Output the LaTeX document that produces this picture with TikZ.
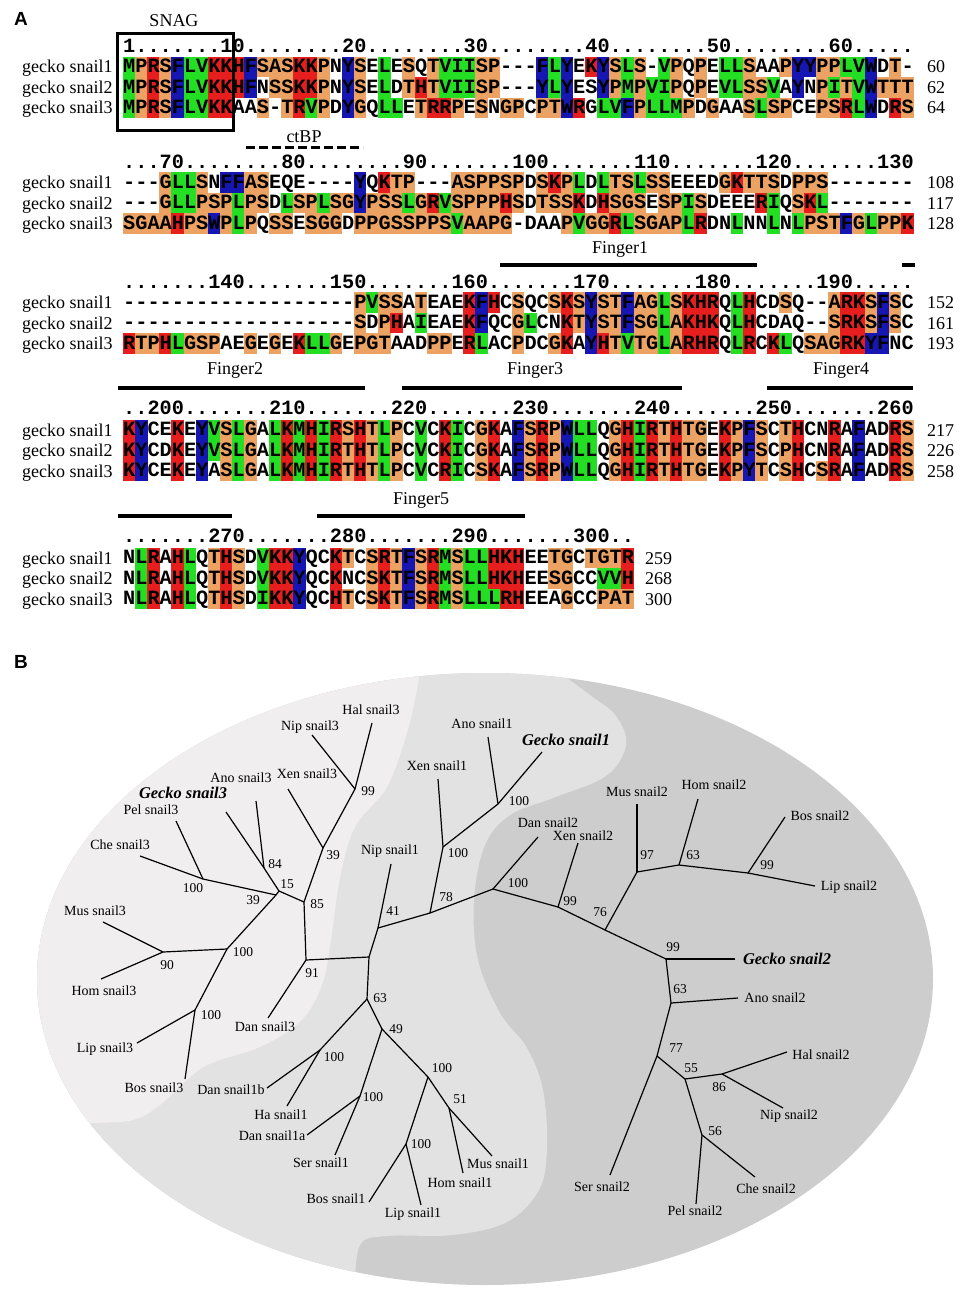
\documentclass[tikz,border=0pt]{standalone}
\usepackage{fontspec}
\setmainfont{Liberation Serif}
\setsansfont{Liberation Sans}
\setmonofont{Liberation Mono}

\definecolor{resG}{RGB}{36,222,36}
\definecolor{resO}{RGB}{236,162,98}
\definecolor{resR}{RGB}{230,30,30}
\definecolor{resB}{RGB}{22,22,178}
\definecolor{bgLight}{RGB}{240,238,238}
\definecolor{bgMid}{RGB}{226,226,226}
\definecolor{bgDark}{RGB}{205,205,205}

\newcount\rescol
\def\setres#1#2{\expandafter\def\csname rc#1\endcsname{#2}}
\setres{K}{resR}\setres{R}{resR}\setres{H}{resR}
\setres{F}{resB}\setres{Y}{resB}\setres{W}{resB}
\setres{L}{resG}\setres{V}{resG}\setres{I}{resG}\setres{M}{resG}
\setres{S}{resO}\setres{T}{resO}\setres{P}{resO}\setres{G}{resO}\setres{A}{resO}
\def\resbox#1{%
  \ifx#1\relax\else
    \ifcsname rc#1\endcsname
      \edef\rescolor{\csname rc#1\endcsname}%
      \fill[fill=\rescolor] ({\resx+\the\rescol*12.16-0.2},{\resy-10.3}) rectangle +(12.56,20.6);
    \fi
    \advance\rescol by 1
    \expandafter\resbox
  \fi}
\newcommand\seqrow[4]{%
  \def\resx{#2}\def\resy{#3}\rescol=0
  \resbox#4\relax
  \node[seq] (#1) at (#2,{#3+5.9}) {\uppercase{#4}};}

\begin{document}
\begin{tikzpicture}[x=1pt,y=-1pt,
  seq/.style={anchor=base west,inner sep=0pt,font=\ttfamily\bfseries\fontsize{20.27}{22}\selectfont},
  lab/.style={anchor=base west,inner sep=0pt,font=\fontsize{18}{20}\selectfont},
  note/.style={inner sep=0pt,font=\fontsize{18}{20}\selectfont},
  bar/.style={line width=4pt},
  panel/.style={inner sep=0pt,font=\sffamily\bfseries\fontsize{19}{20}\selectfont},
  branch/.style={line width=1.2pt},
  leaf/.style={inner sep=0pt,font=\fontsize{14}{15}\selectfont},
  gecko/.style={inner sep=0pt,font=\bfseries\itshape\fontsize{16.4}{18}\selectfont},
  boot/.style={inner sep=0pt,font=\fontsize{13.5}{15}\selectfont}]
\useasboundingbox (0,0) rectangle (969,1300);
\fill[white] (0,0) rectangle (969,1300);

\node[panel] (pA) at (21,19) {A};
\node[note] (snag) at (174,21) {SNAG};

\node[seq] (hdA) at (123,53) {1.......10........20........30........40........50........60.....};
\seqrow{sA1}{123}{67}{MPRSFLVKKHFSASKKPNYSELESQTVIISP---FLYEKYSLS-VPQPELLSaaPYYPPLVWDT-}
\seqrow{sA2}{123}{87.5}{MPRSFLVKKHFNSSKKPNYSELDTHTVIISP---YLYEsYPMPVIPQPEVLSSVaYNPITVWTTT}
\seqrow{sA3}{123}{108}{MPRSFLVKKaaS-TRVPDYGQLLETRRPESNGPCPTWRgLVFPLLMPDGaaSLSPCEPSRLWDRS}
\node[lab] (lA1) at (22,73) {gecko snail1};
\node[lab] (lA2) at (22,93.5) {gecko snail2};
\node[lab] (lA3) at (22,114) {gecko snail3};
\node[lab] (nA1) at (927,73) {60};
\node[lab] (nA2) at (927,93.5) {62};
\node[lab] (nA3) at (927,114) {64};
\node[draw,line width=3pt,minimum width=116pt,minimum height=97pt,inner sep=0pt] (snagbox) at (175,82.5) {};

\node[note] (ctbp) at (304,137) {ctBP};
\coordinate (ctL) at (246,148);
\coordinate (ctR) at (363,148);
\draw[line width=3pt,dash pattern=on 9pt off 4pt] (ctL) -- (ctR);

\node[seq] (hdB) at (123,168) {...70........80........90.......100.......110.......120.......130};
\seqrow{sB1}{123}{182.5}{---GLLSNFFASEQE----YQKTP---ASPPSPDSKPLDLTSLSSEEEDGKTTSDPPS-------}
\seqrow{sB2}{123}{203}{---GLLPSPLPSDLSPLSGYPSSLGRVSPPPHSDTSSKDHSGSESPISDEEERIQSKL-------}
\seqrow{sB3}{123}{223.5}{SGAAHPSWPLPQSSESGGDPPGSSPPSVAAPG-DaaPVGGRLSGAPLRDNLNNLNLPSTFGLPPK}
\node[lab] (lB1) at (22,188.5) {gecko snail1};
\node[lab] (lB2) at (22,209) {gecko snail2};
\node[lab] (lB3) at (22,229.5) {gecko snail3};
\node[lab] (nB1) at (927,188.5) {108};
\node[lab] (nB2) at (927,209) {117};
\node[lab] (nB3) at (927,229.5) {128};

\node[note] (fg1) at (620,249) {Finger1};
\coordinate (f1a) at (500,265);
\coordinate (f1b) at (757,265);
\coordinate (f2a) at (902,265);
\coordinate (f2b) at (915,265);
\draw[bar] (f1a) -- (f1b);
\draw[bar] (f2a) -- (f2b);

\node[seq] (hdC) at (123,288) {.......140.......150.......160.......170.......180.......190.....};
\seqrow{sC1}{123}{302.5}{-------------------PVSSaTEaEKFHCSQCSKSYSTFAGLSKHRQLHCDSQ--ARKSFSC}
\seqrow{sC2}{123}{323}{-------------------SDPHaIEaEKFQCGLCNKTYSTFSGLAKHKQLHCDaQ--SRKSFSC}
\seqrow{sC3}{123}{343.5}{RTPHLGSPaEGEGEKLLGEPGTaaDPPERLaCPDCGKaYHTVTGLARHRQLRCKLQSAGRKYFNC}
\node[lab] (lC1) at (22,308.5) {gecko snail1};
\node[lab] (lC2) at (22,329) {gecko snail2};
\node[lab] (lC3) at (22,349.5) {gecko snail3};
\node[lab] (nC1) at (927,308.5) {152};
\node[lab] (nC2) at (927,329) {161};
\node[lab] (nC3) at (927,349.5) {193};

\node[note] (fg2) at (235,370) {Finger2};
\node[note] (fg3) at (535,370) {Finger3};
\node[note] (fg4) at (841,370) {Finger4};
\coordinate (f2c) at (118,388);
\coordinate (f2d) at (365,388);
\coordinate (f3a) at (402,388);
\coordinate (f3b) at (682,388);
\coordinate (f4a) at (767,388);
\coordinate (f4b) at (913,388);
\draw[bar] (f2c) -- (f2d);
\draw[bar] (f3a) -- (f3b);
\draw[bar] (f4a) -- (f4b);

\node[seq] (hdD) at (123,414) {..200.......210.......220.......230.......240.......250.......260};
\seqrow{sD1}{123}{430}{KYCEKEYVSLGaLKMHIRSHTLPCVCKICGKaFSRPWLLQGHIRTHTGEKPFSCTHCNRaFaDRS}
\seqrow{sD2}{123}{450.5}{KYCDKEYVSLGaLKMHIRTHTLPCVCKICGKaFSRPWLLQGHIRTHTGEKPFSCPHCNRaFaDRS}
\seqrow{sD3}{123}{471}{KYCEKEYaSLGaLKMHIRTHTLPCVCRICSKaFSRPWLLQGHIRTHTGEKPYTCSHCSRaFaDRS}
\node[lab] (lD1) at (22,436) {gecko snail1};
\node[lab] (lD2) at (22,456.5) {gecko snail2};
\node[lab] (lD3) at (22,477) {gecko snail3};
\node[lab] (nD1) at (927,436) {217};
\node[lab] (nD2) at (927,456.5) {226};
\node[lab] (nD3) at (927,477) {258};

\node[note] (fg5) at (421,500) {Finger5};
\coordinate (f4c) at (118,516);
\coordinate (f4d) at (232,516);
\coordinate (f5a) at (317,516);
\coordinate (f5b) at (525,516);
\draw[bar] (f4c) -- (f4d);
\draw[bar] (f5a) -- (f5b);

\node[seq] (hdE) at (123,542) {.......270.......280.......290.......300..};
\seqrow{sE1}{123}{558}{NLRaHLQTHSDVKKYQCKTCSRTFSRMSLLHKHEETGCTGTR}
\seqrow{sE2}{123}{578.5}{NLRaHLQTHSDVKKYQCKNCSKTFSRMSLLHKHEESGCCVVH}
\seqrow{sE3}{123}{599}{NLRaHLQTHSDIKKYQCHTCSKTFSRMSLLLRHEEaGCCPAT}
\node[lab] (lE1) at (22,564) {gecko snail1};
\node[lab] (lE2) at (22,584.5) {gecko snail2};
\node[lab] (lE3) at (22,605) {gecko snail3};
\node[lab] (nE1) at (645,564) {259};
\node[lab] (nE2) at (645,584.5) {268};
\node[lab] (nE3) at (645,605) {300};

\node[panel] (pB) at (21,662) {B};

\begin{scope}
\clip (485,979) ellipse [x radius=448,y radius=306];
\fill[bgDark] (0,640) rectangle (969,1300);
\fill[bgMid] (0,640) -- (553,640) -- plot[smooth,tension=0.6] coordinates {(553,668) (590,695) (616,716) (626,745) (606,776) (553,798) (510,815) (485,845) (474,900) (478,960) (500,1013) (527,1048) (543,1090) (547,1148) (539,1190) (507,1222) (453,1235) (387,1236) (360,1245) (355,1290)} -- (355,1300) -- (0,1300) -- cycle;
\fill[bgLight] (0,640) -- (420,640) -- plot[smooth,tension=0.6] coordinates {(420,668) (417,690) (407,733) (387,787) (355,827) (340,878) (331,940) (322,985) (300,1022) (260,1047) (217,1061) (195,1073) (160,1105) (133,1120) (93,1123) (50,1125)} -- (0,1125) -- cycle;
\end{scope}

\coordinate (n99a) at (355,789);
\coordinate (n39a) at (323,848);
\coordinate (n84) at (264,868);
\coordinate (n15) at (279,891);
\coordinate (n39b) at (276,895);
\coordinate (n100a) at (203,879);
\coordinate (n85) at (304,902);
\coordinate (n91) at (306,960);
\coordinate (n100b) at (227,949);
\coordinate (n90) at (163,952);
\coordinate (n100c) at (195,1010);
\coordinate (nroot) at (369,957);
\coordinate (n41) at (378,928);
\coordinate (n78) at (430,913);
\coordinate (n100d) at (443,847);
\coordinate (n100e) at (498,804);
\coordinate (n63a) at (367,999);
\coordinate (n100g) at (320,1050);
\coordinate (n49) at (382,1029);
\coordinate (n100h) at (360,1096);
\coordinate (n100i) at (428,1077);
\coordinate (n100j) at (406,1144);
\coordinate (n51) at (449,1108);
\coordinate (n100f) at (493,889);
\coordinate (n99b) at (558,907);
\coordinate (n76) at (605,930);
\coordinate (n97) at (637,872);
\coordinate (n63c) at (679,865);
\coordinate (n99d) at (748,873);
\coordinate (n99c) at (666,959);
\coordinate (n63b) at (671,1003);
\coordinate (n77) at (657,1056);
\coordinate (n55) at (685,1079);
\coordinate (n86) at (722,1074);
\coordinate (n56) at (702,1135);

\coordinate (tHal3) at (372,723);
\coordinate (tNip3) at (312,735);
\coordinate (tXen3) at (288,789);
\coordinate (tAno3) at (256,801);
\coordinate (tGecko3) at (226,812);
\coordinate (tPel3) at (176,821);
\coordinate (tChe3) at (140,856);
\coordinate (tMus3) at (103,922);
\coordinate (tHom3) at (101,979);
\coordinate (tLip3) at (137,1043);
\coordinate (tBos3) at (185,1079);
\coordinate (tDan3) at (268,1018);
\coordinate (tNip1) at (391,864);
\coordinate (tXen1) at (438,779);
\coordinate (tAno1) at (488,737);
\coordinate (tGecko1) at (542,752);
\coordinate (tDan1b) at (267,1088);
\coordinate (tHa1) at (287,1106);
\coordinate (tDan1a) at (307,1135);
\coordinate (tSer1) at (335,1155);
\coordinate (tBos1) at (369,1202);
\coordinate (tLip1) at (421,1205);
\coordinate (tHom1) at (463,1173);
\coordinate (tMus1) at (492,1156);
\coordinate (tDan2) at (538,837);
\coordinate (tXen2) at (578,843);
\coordinate (tMus2) at (637,804);
\coordinate (tHom2) at (698,799);
\coordinate (tBos2) at (785,817);
\coordinate (tLip2) at (815,886);
\coordinate (tGecko2) at (735,959);
\coordinate (tAno2) at (738,998);
\coordinate (tSer2) at (610,1175);
\coordinate (tHal2) at (787,1052);
\coordinate (tNip2) at (783,1108);
\coordinate (tChe2) at (755,1177);
\coordinate (tPel2) at (696,1204);

\draw[branch] (n99a) -- (tHal3);
\draw[branch] (n99a) -- (tNip3);
\draw[branch] (n99a) -- (n39a);
\draw[branch] (n39a) -- (tXen3);
\draw[branch] (n39a) -- (n85);
\draw[branch] (n84) -- (tAno3);
\draw[branch] (n84) -- (tGecko3);
\draw[branch] (n84) -- (n15);
\draw[branch] (n15) -- (n85);
\draw[branch] (n15) -- (n39b);
\draw[branch] (n39b) -- (n100a);
\draw[branch] (n100a) -- (tPel3);
\draw[branch] (n100a) -- (tChe3);
\draw[branch] (n39b) -- (n100b);
\draw[branch] (n100b) -- (n90);
\draw[branch] (n90) -- (tMus3);
\draw[branch] (n90) -- (tHom3);
\draw[branch] (n100b) -- (n100c);
\draw[branch] (n100c) -- (tLip3);
\draw[branch] (n100c) -- (tBos3);
\draw[branch] (n85) -- (n91);
\draw[branch] (n91) -- (tDan3);
\draw[branch] (n91) -- (nroot);
\draw[branch] (nroot) -- (n41);
\draw[branch] (nroot) -- (n63a);
\draw[branch] (n41) -- (tNip1);
\draw[branch] (n41) -- (n78);
\draw[branch] (n78) -- (n100d);
\draw[branch] (n100d) -- (tXen1);
\draw[branch] (n100d) -- (n100e);
\draw[branch] (n100e) -- (tAno1);
\draw[branch] (n100e) -- (tGecko1);
\draw[branch] (n78) -- (n100f);
\draw[branch] (n63a) -- (n100g);
\draw[branch] (n100g) -- (tDan1b);
\draw[branch] (n100g) -- (tHa1);
\draw[branch] (n63a) -- (n49);
\draw[branch] (n49) -- (n100h);
\draw[branch] (n100h) -- (tDan1a);
\draw[branch] (n100h) -- (tSer1);
\draw[branch] (n49) -- (n100i);
\draw[branch] (n100i) -- (n100j);
\draw[branch] (n100j) -- (tBos1);
\draw[branch] (n100j) -- (tLip1);
\draw[branch] (n100i) -- (n51);
\draw[branch] (n51) -- (tHom1);
\draw[branch] (n51) -- (tMus1);
\draw[branch] (n100f) -- (tDan2);
\draw[branch] (n100f) -- (n99b);
\draw[branch] (n99b) -- (tXen2);
\draw[branch] (n99b) -- (n76);
\draw[branch] (n76) -- (n97);
\draw[branch] (n97) -- (tMus2);
\draw[branch] (n97) -- (n63c);
\draw[branch] (n63c) -- (tHom2);
\draw[branch] (n63c) -- (n99d);
\draw[branch] (n99d) -- (tBos2);
\draw[branch] (n99d) -- (tLip2);
\draw[branch] (n76) -- (n99c);
\draw[branch] (n99c) -- (tGecko2);
\draw[branch] (n99c) -- (n63b);
\draw[branch] (n63b) -- (tAno2);
\draw[branch] (n63b) -- (n77);
\draw[branch] (n77) -- (tSer2);
\draw[branch] (n77) -- (n55);
\draw[branch] (n55) -- (n86);
\draw[branch] (n86) -- (tHal2);
\draw[branch] (n86) -- (tNip2);
\draw[branch] (n55) -- (n56);
\draw[branch] (n56) -- (tChe2);
\draw[branch] (n56) -- (tPel2);

\node[leaf] (lHal3) at (371,710) {Hal snail3};
\node[leaf] (lNip3) at (310,727) {Nip snail3};
\node[leaf] (lXen3) at (307,774) {Xen snail3};
\node[leaf] (lAno3) at (241,778) {Ano snail3};
\node[gecko] (lGecko3) at (183,793) {Gecko snail3};
\node[leaf] (lPel3) at (151,810) {Pel snail3};
\node[leaf] (lChe3) at (120,845) {Che snail3};
\node[leaf] (lMus3) at (95,911) {Mus snail3};
\node[leaf] (lHom3) at (104,991) {Hom snail3};
\node[leaf] (lLip3) at (105,1049) {Lip snail3};
\node[leaf] (lBos3) at (154,1088) {Bos snail3};
\node[leaf] (lDan3) at (265,1027) {Dan snail3};
\node[leaf] (lNip1) at (390,851) {Nip snail1};
\node[leaf] (lXen1) at (437,766) {Xen snail1};
\node[leaf] (lAno1) at (482,724) {Ano snail1};
\node[gecko] (lGecko1) at (566,740) {Gecko snail1};
\node[leaf] (lDan1b) at (231,1090) {Dan snail1b};
\node[leaf] (lHa1) at (281,1115) {Ha snail1};
\node[leaf] (lDan1a) at (272,1136) {Dan snail1a};
\node[leaf] (lSer1) at (321,1163) {Ser snail1};
\node[leaf] (lBos1) at (336,1199) {Bos snail1};
\node[leaf] (lLip1) at (413,1214) {Lip snail1};
\node[leaf] (lHom1) at (460,1183) {Hom snail1};
\node[leaf] (lMus1) at (498,1164) {Mus snail1};
\node[leaf] (lDan2) at (548,823) {Dan snail2};
\node[leaf] (lXen2) at (583,836) {Xen snail2};
\node[leaf] (lMus2) at (637,792) {Mus snail2};
\node[leaf] (lHom2) at (714,785) {Hom snail2};
\node[leaf] (lBos2) at (820,816) {Bos snail2};
\node[leaf] (lLip2) at (849,887) {Lip snail2};
\node[gecko] (lGecko2) at (787,959) {Gecko snail2};
\node[leaf] (lAno2) at (775,998) {Ano snail2};
\node[leaf] (lSer2) at (602,1187) {Ser snail2};
\node[leaf] (lHal2) at (821,1055) {Hal snail2};
\node[leaf] (lNip2) at (789,1116) {Nip snail2};
\node[leaf] (lChe2) at (766,1189) {Che snail2};
\node[leaf] (lPel2) at (695,1211) {Pel snail2};

\node[boot] (b99a) at (368,791) {99};
\node[boot] (b39a) at (333,855) {39};
\node[boot] (b84) at (275,864) {84};
\node[boot] (b15) at (287,884) {15};
\node[boot] (b39b) at (253,900) {39};
\node[boot] (b100a) at (193,888) {100};
\node[boot] (b85) at (317,904) {85};
\node[boot] (b91) at (312,973) {91};
\node[boot] (b100b) at (243,952) {100};
\node[boot] (b90) at (167,965) {90};
\node[boot] (b100c) at (211,1015) {100};
\node[boot] (b41) at (393,911) {41};
\node[boot] (b78) at (446,897) {78};
\node[boot] (b100d) at (458,853) {100};
\node[boot] (b100e) at (519,801) {100};
\node[boot] (b63a) at (380,998) {63};
\node[boot] (b100g) at (334,1057) {100};
\node[boot] (b49) at (396,1029) {49};
\node[boot] (b100h) at (373,1097) {100};
\node[boot] (b100i) at (442,1068) {100};
\node[boot] (b100j) at (421,1144) {100};
\node[boot] (b51) at (460,1099) {51};
\node[boot] (b100f) at (518,883) {100};
\node[boot] (b99b) at (570,901) {99};
\node[boot] (b76) at (600,912) {76};
\node[boot] (b97) at (647,855) {97};
\node[boot] (b63c) at (693,855) {63};
\node[boot] (b99d) at (767,865) {99};
\node[boot] (b99c) at (673,947) {99};
\node[boot] (b63b) at (680,989) {63};
\node[boot] (b77) at (676,1048) {77};
\node[boot] (b55) at (691,1068) {55};
\node[boot] (b86) at (719,1087) {86};
\node[boot] (b56) at (715,1131) {56};
\end{tikzpicture}
\end{document}
